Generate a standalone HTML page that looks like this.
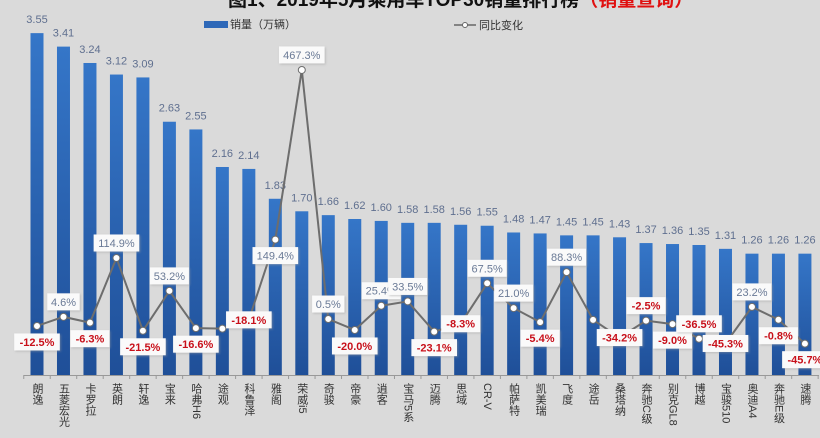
<!DOCTYPE html>
<html><head><meta charset="utf-8">
<style>
html,body{margin:0;padding:0;background:#dadada;}
body{width:820px;height:438px;overflow:hidden;position:relative;font-family:"Liberation Sans","Noto Sans CJK SC",sans-serif;}
svg{position:absolute;left:0;top:0;}
</style></head>
<body>
<svg id="chart" width="820" height="438" viewBox="0 0 820 438">
<defs>
<linearGradient id="bg" x1="0" y1="0" x2="0" y2="1">
<stop offset="0" stop-color="#3576c8"/><stop offset="1" stop-color="#1f4f98"/>
</linearGradient>
<filter id="sh" x="-20%" y="-20%" width="140%" height="140%"><feDropShadow dx="1" dy="1" stdDeviation="1" flood-color="#999" flood-opacity="0.5"/></filter>
</defs>
<text x="228" y="6" font-size="19" font-weight="bold" fill="#111">图1、2019年5月乘用车TOP30销量排行榜<tspan fill="#e01010">（销量查询）</tspan></text>
<g>
<rect x="204" y="21" width="24" height="7" fill="#2e68b8"/>
<text x="230" y="28" font-size="11" fill="#333">销量（万辆）</text>
<line x1="454" y1="25" x2="476" y2="25" stroke="#666" stroke-width="1.5"/>
<circle cx="465" cy="25" r="2.5" fill="#fff" stroke="#666"/>
<text x="479" y="29" font-size="11" fill="#333">同比变化</text>
</g>
<g id="bars"></g><g id="axis"></g><g id="line"></g><g id="labels"></g>
</svg>
<script>
const categories=["朗逸","五菱宏光","卡罗拉","英朗","轩逸","宝来","哈弗H6","途观","科鲁泽","雅阁","荣威i5","奇骏","帝豪","逍客","宝马5系","迈腾","思域","CR-V","帕萨特","凯美瑞","飞度","途岳","桑塔纳","奔驰C级","别克GL8","博越","宝骏510","奥迪A4","奔驰E级","速腾"];
const sales=[3.55,3.41,3.24,3.12,3.09,2.63,2.55,2.16,2.14,1.83,1.70,1.66,1.62,1.60,1.58,1.58,1.56,1.55,1.48,1.47,1.45,1.45,1.43,1.37,1.36,1.35,1.31,1.26,1.26,1.26];
const salesLabels=["3.55","3.41","3.24","3.12","3.09","2.63","2.55","2.16","2.14","1.83","1.70","1.66","1.62","1.60","1.58","1.58","1.56","1.55","1.48","1.47","1.45","1.45","1.43","1.37","1.36","1.35","1.31","1.26","1.26","1.26"];
const yoy=[-12.5,4.6,-6.3,114.9,-21.5,53.2,-16.6,-17.5,-1.0,149.4,467.3,0.5,-20.0,25.4,33.5,-23.1,-8.3,67.5,21.0,-5.4,88.3,-1.0,-34.2,-2.5,-9.0,-36.5,-45.3,23.2,-0.8,-45.7];
const yoyLabels=["-12.5%","4.6%","-6.3%","114.9%","-21.5%","53.2%","-16.6%",null,"-18.1%","149.4%","467.3%","0.5%","-20.0%","25.4%","33.5%","-23.1%","-8.3%","67.5%","21.0%","-5.4%","88.3%",null,"-34.2%","-2.5%","-9.0%","-36.5%","-45.3%","23.2%","-0.8%","-45.7%"];
const labelSide=["b","a","b","a","b","a","b","n","c","b","a","a","b","a","a","b","c","a","a","b","a","n","c","a","b","a","c","a","b","b"];

const NS="http://www.w3.org/2000/svg";
const x0=37, step=26.48, base=375, yScale=96.3, zeroY=319.3, pScale=0.5336;
const xPos=i=>x0+i*step;
const ySales=v=>base-v*yScale;
const yPct=v=>zeroY-v*pScale;
function mk(tag,attrs,parent){const e=document.createElementNS(NS,tag);for(const k in attrs)e.setAttribute(k,attrs[k]);parent.appendChild(e);return e;}
const gB=document.getElementById('bars'),gA=document.getElementById('axis'),gL=document.getElementById('line'),gT=document.getElementById('labels');

sales.forEach((v,i)=>{
  const r=mk('rect',{x:xPos(i)-6.5,y:ySales(v),width:13,height:base-ySales(v),fill:'url(#bg)'},gB);
  
  
  const t=mk('text',{x:xPos(i),y:ySales(v)-10,'font-size':11,fill:'#5f6f8f','text-anchor':'middle'},gB);
  t.textContent=salesLabels[i];
  
  
});
const ax=mk('line',{x1:24,y1:base+0.5,x2:819,y2:base+0.5,stroke:'#999'},gA);


for(let i=0;i<=categories.length;i++){
  mk('line',{x1:xPos(i)-step/2,y1:base,x2:xPos(i)-step/2,y2:base+4,stroke:'#999'},gA);
}
categories.forEach((c,i)=>{
  const t=mk('text',{x:xPos(i),y:base+8,'font-size':11,fill:'#333',style:'writing-mode:vertical-rl;text-orientation:mixed'},gA);
  t.textContent=c;
  
  
});
const pts=yoy.map((v,i)=>xPos(i)+','+yPct(v)).join(' ');
const pl=mk('polyline',{points:pts,fill:'none',stroke:'#6d6d6d','stroke-width':2},gL);


yoy.forEach((v,i)=>{
  const c=mk('circle',{cx:xPos(i),cy:yPct(v),r:3.5,fill:'#fff',stroke:'#6d6d6d','stroke-width':1},gL);
  
  
});
yoyLabels.forEach((s,i)=>{
  if(!s)return;
  const py=yPct(yoy[i]);
  const side=labelSide[i];
  const cy=side==='a'?py-15:side==='b'?py+16:py;
  const w=s.length*6.6+6, h=17;
  const g=mk('g',{},gT);
  
  
  mk('rect',{x:xPos(i)-w/2,y:cy-h/2,width:w,height:h,fill:'#fafafa',filter:'url(#sh)'},g);
  const neg=s[0]==='-';
  const t=mk('text',{x:xPos(i),y:cy+4,'font-size':11,'text-anchor':'middle',fill:neg?'#c8101a':'#6a7a96','font-weight':neg?'bold':'normal'},g);
  t.textContent=s;
});
</script>
</body></html>
